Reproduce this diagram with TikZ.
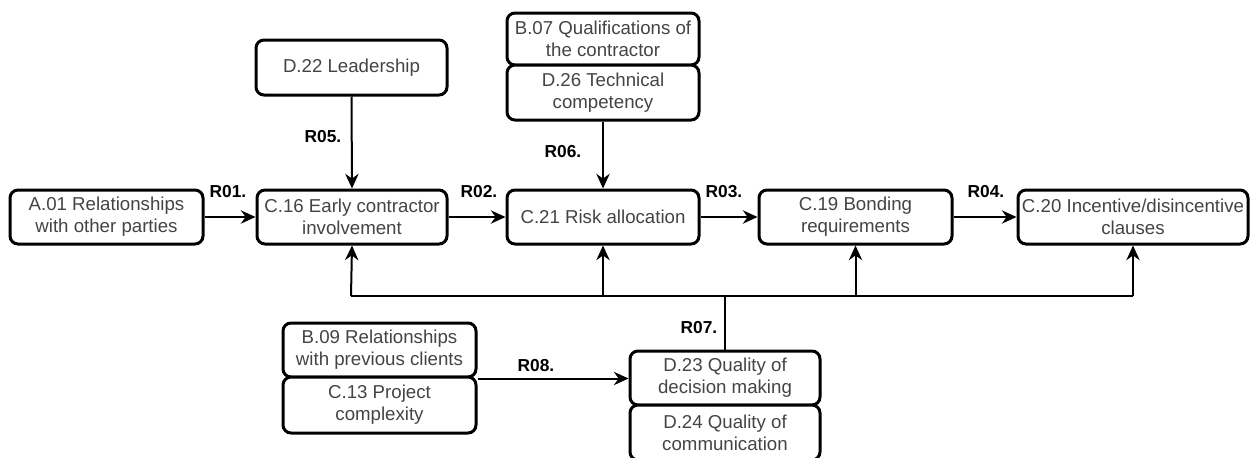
\documentclass[tikz,border=0pt]{standalone}
\usepackage{fontspec}
\setmainfont{Liberation Sans}
\usetikzlibrary{arrows.meta}
\definecolor{txtgray}{HTML}{444444}
\begin{document}
\begin{tikzpicture}[x=0.75pt,y=-0.75pt,
  box/.style={draw=black,line width=2.25pt,rounded corners=6pt,fill=white,
    align=center,text=txtgray,font=\fontsize{14}{16.3}\selectfont,inner sep=0pt,
    minimum height=#1*0.75pt},
  box/.default=54,
  conn/.style={line width=1.5pt,-{Stealth[length=11pt,width=10pt]}},
  line/.style={line width=1.5pt},
  lab/.style={font=\bfseries\fontsize{13}{15}\selectfont,text=black,inner sep=0pt}]
\useasboundingbox (0,0) rectangle (1252,457);
% nodes
\node[box,minimum width=193*0.75pt] (a01) at (106.5,217) {A.01 Relationships\\with other parties};
\node[box,minimum width=190*0.75pt] (c16) at (352,217) {C.16 Early contractor\\involvement};
\node[box=55,minimum width=191*0.75pt] (d22) at (351.5,67.5) {D.22 Leadership};
\node[box=52,minimum width=192*0.75pt] (b07) at (603,39) {B.07 Qualifications of\\the contractor};
\node[box=55,minimum width=192*0.75pt] (d26) at (603,92.5) {D.26 Technical\\competency};
\node[box,minimum width=192*0.75pt] (c21) at (603,217) {C.21 Risk allocation};
\node[box,minimum width=193*0.75pt] (c19) at (855.5,217) {C.19 Bonding\\requirements};
\node[box,minimum width=230*0.75pt] (c20) at (1133,217) {C.20 Incentive/disincentive\\clauses};
\node[box,minimum width=193*0.75pt] (b09) at (379.5,350) {B.09 Relationships\\with previous clients};
\node[box=56,minimum width=193*0.75pt] (c13) at (379.5,405) {C.13 Project\\complexity};
\node[box,minimum width=190*0.75pt] (d23) at (725,378) {D.23 Quality of\\decision making};
\node[box=55,minimum width=190*0.75pt] (d24) at (725,432.5) {D.24 Quality of\\communication};
% bus coordinates
\coordinate (bus) at (725,296);
\coordinate (busL) at (351,296);
\coordinate (busR) at (1133,296);
% connectors
\draw[conn] (a01.east) -- (c16.west);
\draw[conn] (c16.east) -- (c21.west);
\draw[conn] (c21.east) -- (c19.west);
\draw[conn] (c19.east) -- (c20.west);
\draw[conn] (d22.south) -- (c16.north);
\draw[conn] (d26.south) -- (c21.north);
\draw[conn] (b09.south east) coordinate (j) -- (j -| d23.west);
\draw[line] (d23.north) -- (bus);
\draw[line] (busL) -- (busR);
\draw[conn] (busL) -- (c16.south);
\draw[conn] (bus -| c21.south) -- (c21.south);
\draw[conn] (bus -| c19.south) -- (c19.south);
\draw[conn] (busR) -- (c20.south);
% labels
\node[lab] (r01) at (228,192) {R01.};
\node[lab] (r02) at (479,192) {R02.};
\node[lab] (r03) at (724,192) {R03.};
\node[lab] (r04) at (986,192) {R04.};
\node[lab] (r05) at (323,137) {R05.};
\node[lab] (r06) at (563,152) {R06.};
\node[lab] (r07) at (699,328) {R07.};
\node[lab] (r08) at (536,366) {R08.};
\end{tikzpicture}
\end{document}
